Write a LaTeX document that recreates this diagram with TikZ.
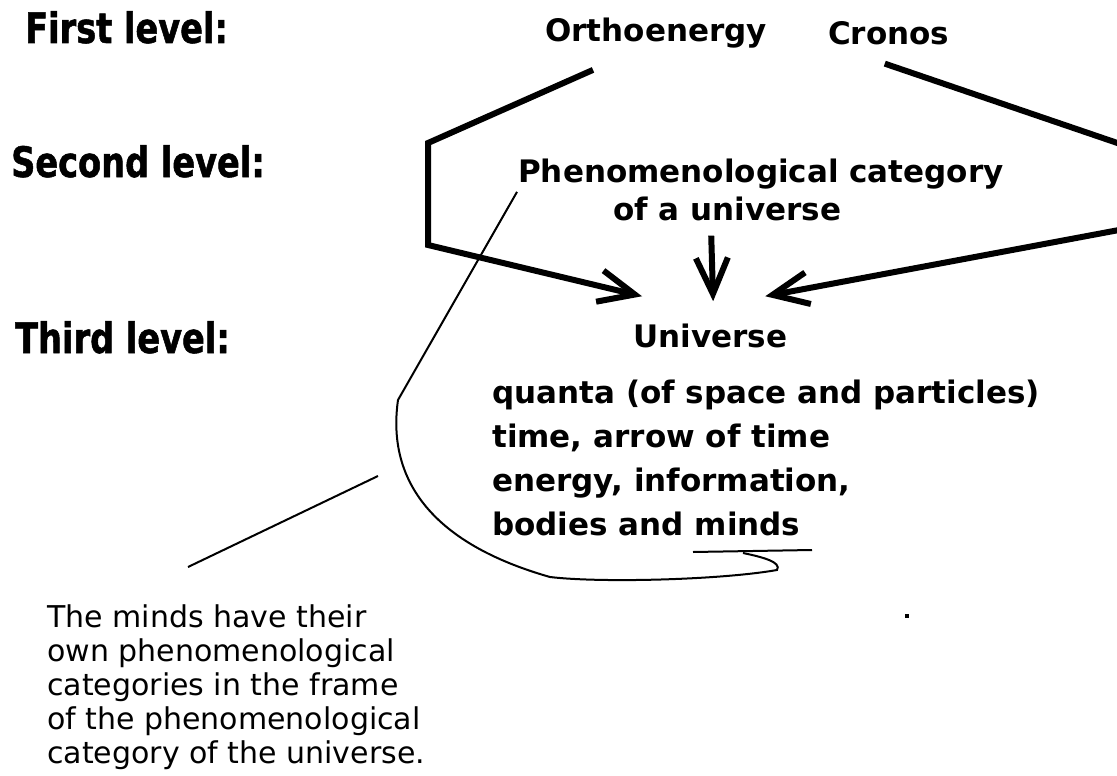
\documentclass[tikz,border=0pt]{standalone}
\usepackage{fontspec}
\setmainfont{DejaVu Sans}
\newfontfamily\headfont{DejaVu Sans}[FakeStretch=0.8, FakeBold=1.2]
\usetikzlibrary{arrows.meta}
\tikzset{
  levellabel/.style = {anchor=base west, font=\headfont\bfseries\fontsize{42pt}{50pt}\selectfont},
  term/.style       = {anchor=base west, font=\bfseries\fontsize{31pt}{44pt}\selectfont},
  remark/.style     = {anchor=base west, align=left, font=\fontsize{30pt}{34pt}\selectfont},
  link/.style       = {line width=6pt, -{Straight Barb[length=36pt,width=32pt]}},
  pointer/.style    = {line width=2pt}
}

\begin{document}
\begin{tikzpicture}
        [
            x                 = 1pt,
            y                 = -1pt,
            every node/.style = {inner sep=0pt}
        ]
    \useasboundingbox (0,0) rectangle (1117,776);
    \clip (0,0) rectangle (1117,776);

    \node [levellabel] (first)  at (25,43)  {First level:};
    \node [levellabel] (second) at (11,177) {Second level:};
    \node [levellabel] (third)  at (15,353) {Third level:};

    \node [term] (ortho)  at (545,42)  {Orthoenergy};
    \node [term] (cronos) at (828,45)  {Cronos};
    \node [term] (phen1)  at (518,182) {Phenomenological category};
    \node [term] (phen2)  at (613,220) {of a universe};
    \node [term] (uni)    at (633,347) {Universe};
    \node [term, align=left] (props) at (492,535)
        {quanta (of space and particles)\\time, arrow of time\\energy, information,\\bodies and minds};
    \node [remark] (note) at (47,763)
        {The minds have their\\own phenomenological\\categories in the frame\\of the phenomenological\\category of the universe.};

    \coordinate (or1)    at (428,143);
    \coordinate (or2)    at (428,245);
    \coordinate (cr1)    at (1135,149);
    \coordinate (cr2)    at (1135,227);
    \coordinate (mindsL) at (693,552);
    \coordinate (mindsR) at (812,550);
    \coordinate (bend)   at (398,400);
    \coordinate (pinA)   at (378,476);
    \coordinate (pinB)   at (188,567);

    \draw [link] ([xshift=-63pt,yshift=-21pt]ortho.south) -- (or1) -- (or2)
        -- ([xshift=9pt,yshift=27pt]uni.north west);
    \draw [link] ([xshift=-4pt,yshift=-18pt]cronos.south) -- (cr1) -- (cr2)
        -- ([xshift=-22pt,yshift=27pt]uni.north east);
    \draw [link] ([xshift=-16pt,yshift=-15pt]phen2.south) -- ([xshift=3pt,yshift=22pt]uni.north);

    \draw [pointer] (mindsL) -- (mindsR);
    \draw [pointer] ([xshift=-1pt,yshift=-3pt]phen1.south west) -- (bend)
        .. controls (388,470) and (420,540) .. (550,577)
        .. controls (600,583) and (720,580) .. (777,570)
        .. controls (782,562) and (762,557) .. (743,553);
    \draw [pointer] (pinA) -- (pinB);

    \fill (905,614) rectangle (909,618);

\end{tikzpicture}
\end{document}
